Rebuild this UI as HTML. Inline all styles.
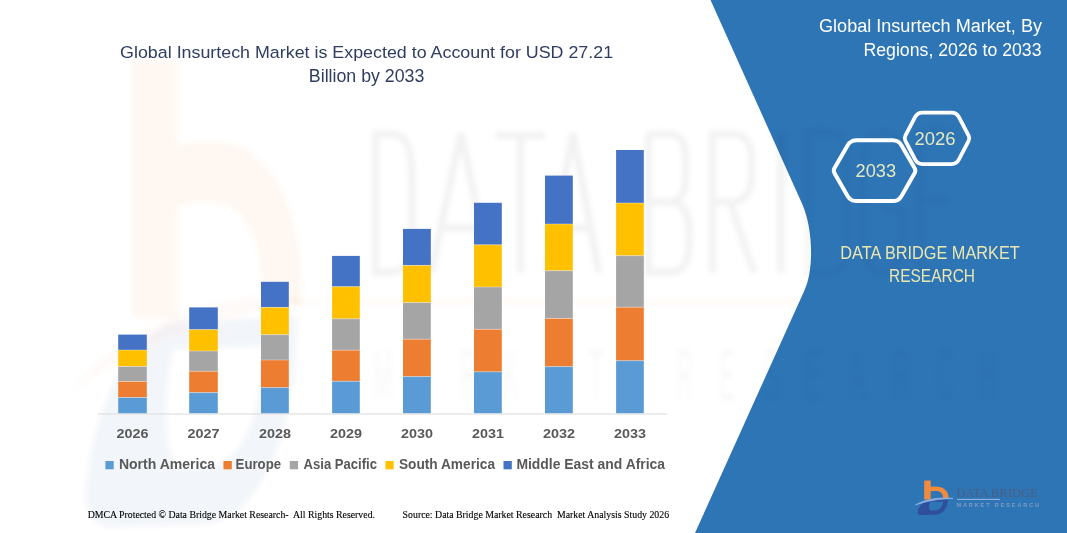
<!DOCTYPE html>
<html><head><meta charset="utf-8">
<style>
html,body{margin:0;padding:0;background:#fff;width:1067px;height:533px;overflow:hidden}
svg{display:block}
</style></head><body>
<svg width="1067" height="533" viewBox="0 0 1067 533">
<rect width="1067" height="533" fill="#fff"/>
<!-- blue panel -->
<path d="M710.5 0 L802.2 204 C812.3 226.5 814.7 267.5 804.6 290 L695 533 L1067 533 L1067 0 Z" fill="#2E75B6"/>
<!-- watermark -->
<defs><filter id="bl" x="-20%" y="-20%" width="140%" height="140%"><feGaussianBlur stdDeviation="2.5"/></filter></defs>
<g filter="url(#bl)">
<g transform="translate(-6291.19 -6425.75) scale(6.95 13.5)">
<path d="M924.2 480.5 H930.7 V486.8 C934 486.3 938 486.3 941 487.2 C946 489 948.8 493 948.6 498.6 L943.2 498.6 C943 494 941 491.2 936.5 491 C934 490.9 932 491 930.7 491.3 V499.5 H924.2 Z" fill="#F08A3C" fill-opacity="0.07"/>
<path d="M917.6 512.5 C918.5 506 924 500.8 930.5 499.8 L947.8 499.4 C948.2 507.5 943 514.2 935 514.8 L921 515 C918.8 515 917.4 514 917.6 512.5 Z M930.2 501.8 C928.6 505 928.8 509 930.6 510.6 L935.5 510.6 C940.5 510.2 943.2 506 943 501.6 Z" fill="#2F4E9C" fill-opacity="0.05" fill-rule="evenodd"/>
<path d="M915.5 505 C925 499 940 497 953 498.4 C940 498.6 926 501 915.5 505 Z" fill="#F0A070" fill-opacity="0.05"/>
</g>
<g fill="none" stroke="#000" stroke-opacity="0.05" stroke-width="7">
<path d="M375.5 134 V272 H390 C412 272 412 250 412 203 C412 155 412 134 390 134 Z"/>
<path d="M431 273 L461 133 L491 273 M440 228 H482"/>
<path d="M496 135.5 H545 M520.5 135.5 V273"/>
<path d="M547 273 L573 133 L599 273 M555 228 H591"/>
<path d="M648.5 134 V272 H670 C690 272 689 252 689 232 C689 212 684 202 668 202 H648.5 M668 202 C684 202 686 190 686 168 C686 144 684 134 668 134 H648.5"/>
<path d="M712.5 273 V134 H732 C750 134 752 148 752 168 C752 190 748 202 730 202 H712.5 M730 202 L754 273"/>
<path d="M781 133 V273"/>
</g>
<path d="M360 302 H795" stroke="#ED7D31" stroke-opacity="0.06" stroke-width="4"/>
</g>
<g fill="none" stroke="#000" stroke-opacity="0.035" stroke-width="6" filter="url(#bl)">
<path d="M808 132 V273 H825 C853 273 846 255 846 202 C846 150 853 132 825 132 Z"/>
<path d="M902 150 C898 136 890 132 882 132 C866 132 862 150 862 202 C862 255 866 273 882 273 C896 273 902 262 902 240 V210 H884"/>
<path d="M952 132 H920 V273 H952 M920 200 H948"/>
</g>
<g filter="url(#bl)"><text transform="translate(0 400) scale(0.75 2.25)" y="0" font-family="Liberation Sans" font-size="32" fill="#000" fill-opacity="0.026"><tspan x="497.3">M</tspan><tspan x="555.1">A</tspan><tspan x="612.8">R</tspan><tspan x="670.5">K</tspan><tspan x="728.3">E</tspan><tspan x="786.0">T</tspan><tspan x="901.5">R</tspan><tspan x="959.2">E</tspan><tspan x="1016.9">S</tspan><tspan x="1074.7">E</tspan><tspan x="1132.4">A</tspan><tspan x="1190.1">R</tspan><tspan x="1247.9">C</tspan><tspan x="1305.6">H</tspan></text></g>
<!-- title -->
<text x="366.6" y="57.6" text-anchor="middle" font-family="Liberation Sans" font-size="17.4" fill="#2F3D60" textLength="493" lengthAdjust="spacingAndGlyphs">Global Insurtech Market is Expected to Account for USD 27.21</text>
<text x="366.6" y="81.8" text-anchor="middle" font-family="Liberation Sans" font-size="18.3" fill="#2F3D60" textLength="115.5" lengthAdjust="spacingAndGlyphs">Billion by 2033</text>
<!-- axis -->
<line x1="97.5" x2="667" y1="414" y2="414" stroke="#D9D9D9" stroke-width="1"/>
<rect x="118.2" y="334.6" width="28.6" height="15.40" fill="#4472C4"/><rect x="118.2" y="350" width="28.6" height="16.50" fill="#FFC000"/><rect x="118.2" y="366.5" width="28.6" height="15.00" fill="#A5A5A5"/><rect x="118.2" y="381.5" width="28.6" height="16.00" fill="#ED7D31"/><rect x="118.2" y="397.5" width="28.6" height="15.70" fill="#5B9BD5"/><line x1="118.2" x2="146.8" y1="350" y2="350" stroke="#fff" stroke-opacity="0.45" stroke-width="0.8"/><line x1="118.2" x2="146.8" y1="366.5" y2="366.5" stroke="#fff" stroke-opacity="0.45" stroke-width="0.8"/><line x1="118.2" x2="146.8" y1="381.5" y2="381.5" stroke="#fff" stroke-opacity="0.45" stroke-width="0.8"/><line x1="118.2" x2="146.8" y1="397.5" y2="397.5" stroke="#fff" stroke-opacity="0.45" stroke-width="0.8"/><rect x="189.2" y="307.4" width="28.6" height="22.20" fill="#4472C4"/><rect x="189.2" y="329.6" width="28.6" height="21.40" fill="#FFC000"/><rect x="189.2" y="351" width="28.6" height="20.30" fill="#A5A5A5"/><rect x="189.2" y="371.3" width="28.6" height="21.30" fill="#ED7D31"/><rect x="189.2" y="392.6" width="28.6" height="20.60" fill="#5B9BD5"/><line x1="189.2" x2="217.79999999999998" y1="329.6" y2="329.6" stroke="#fff" stroke-opacity="0.45" stroke-width="0.8"/><line x1="189.2" x2="217.79999999999998" y1="351" y2="351" stroke="#fff" stroke-opacity="0.45" stroke-width="0.8"/><line x1="189.2" x2="217.79999999999998" y1="371.3" y2="371.3" stroke="#fff" stroke-opacity="0.45" stroke-width="0.8"/><line x1="189.2" x2="217.79999999999998" y1="392.6" y2="392.6" stroke="#fff" stroke-opacity="0.45" stroke-width="0.8"/><rect x="261.0" y="281.8" width="27.8" height="25.60" fill="#4472C4"/><rect x="261.0" y="307.4" width="27.8" height="27.30" fill="#FFC000"/><rect x="261.0" y="334.7" width="27.8" height="25.30" fill="#A5A5A5"/><rect x="261.0" y="360" width="27.8" height="27.60" fill="#ED7D31"/><rect x="261.0" y="387.6" width="27.8" height="25.60" fill="#5B9BD5"/><line x1="261.0" x2="288.8" y1="307.4" y2="307.4" stroke="#fff" stroke-opacity="0.45" stroke-width="0.8"/><line x1="261.0" x2="288.8" y1="334.7" y2="334.7" stroke="#fff" stroke-opacity="0.45" stroke-width="0.8"/><line x1="261.0" x2="288.8" y1="360" y2="360" stroke="#fff" stroke-opacity="0.45" stroke-width="0.8"/><line x1="261.0" x2="288.8" y1="387.6" y2="387.6" stroke="#fff" stroke-opacity="0.45" stroke-width="0.8"/><rect x="332.1" y="255.9" width="27.7" height="30.80" fill="#4472C4"/><rect x="332.1" y="286.7" width="27.7" height="32.10" fill="#FFC000"/><rect x="332.1" y="318.8" width="27.7" height="31.40" fill="#A5A5A5"/><rect x="332.1" y="350.2" width="27.7" height="31.10" fill="#ED7D31"/><rect x="332.1" y="381.3" width="27.7" height="31.90" fill="#5B9BD5"/><line x1="332.1" x2="359.8" y1="286.7" y2="286.7" stroke="#fff" stroke-opacity="0.45" stroke-width="0.8"/><line x1="332.1" x2="359.8" y1="318.8" y2="318.8" stroke="#fff" stroke-opacity="0.45" stroke-width="0.8"/><line x1="332.1" x2="359.8" y1="350.2" y2="350.2" stroke="#fff" stroke-opacity="0.45" stroke-width="0.8"/><line x1="332.1" x2="359.8" y1="381.3" y2="381.3" stroke="#fff" stroke-opacity="0.45" stroke-width="0.8"/><rect x="403.0" y="228.9" width="27.8" height="36.50" fill="#4472C4"/><rect x="403.0" y="265.4" width="27.8" height="37.20" fill="#FFC000"/><rect x="403.0" y="302.6" width="27.8" height="36.60" fill="#A5A5A5"/><rect x="403.0" y="339.2" width="27.8" height="37.40" fill="#ED7D31"/><rect x="403.0" y="376.6" width="27.8" height="36.60" fill="#5B9BD5"/><line x1="403.0" x2="430.8" y1="265.4" y2="265.4" stroke="#fff" stroke-opacity="0.45" stroke-width="0.8"/><line x1="403.0" x2="430.8" y1="302.6" y2="302.6" stroke="#fff" stroke-opacity="0.45" stroke-width="0.8"/><line x1="403.0" x2="430.8" y1="339.2" y2="339.2" stroke="#fff" stroke-opacity="0.45" stroke-width="0.8"/><line x1="403.0" x2="430.8" y1="376.6" y2="376.6" stroke="#fff" stroke-opacity="0.45" stroke-width="0.8"/><rect x="474.0" y="202.8" width="27.8" height="42.00" fill="#4472C4"/><rect x="474.0" y="244.8" width="27.8" height="42.20" fill="#FFC000"/><rect x="474.0" y="287" width="27.8" height="42.30" fill="#A5A5A5"/><rect x="474.0" y="329.3" width="27.8" height="42.50" fill="#ED7D31"/><rect x="474.0" y="371.8" width="27.8" height="41.40" fill="#5B9BD5"/><line x1="474.0" x2="501.8" y1="244.8" y2="244.8" stroke="#fff" stroke-opacity="0.45" stroke-width="0.8"/><line x1="474.0" x2="501.8" y1="287" y2="287" stroke="#fff" stroke-opacity="0.45" stroke-width="0.8"/><line x1="474.0" x2="501.8" y1="329.3" y2="329.3" stroke="#fff" stroke-opacity="0.45" stroke-width="0.8"/><line x1="474.0" x2="501.8" y1="371.8" y2="371.8" stroke="#fff" stroke-opacity="0.45" stroke-width="0.8"/><rect x="545.0" y="175.6" width="27.8" height="48.40" fill="#4472C4"/><rect x="545.0" y="224" width="27.8" height="46.70" fill="#FFC000"/><rect x="545.0" y="270.7" width="27.8" height="47.80" fill="#A5A5A5"/><rect x="545.0" y="318.5" width="27.8" height="48.10" fill="#ED7D31"/><rect x="545.0" y="366.6" width="27.8" height="46.60" fill="#5B9BD5"/><line x1="545.0" x2="572.8" y1="224" y2="224" stroke="#fff" stroke-opacity="0.45" stroke-width="0.8"/><line x1="545.0" x2="572.8" y1="270.7" y2="270.7" stroke="#fff" stroke-opacity="0.45" stroke-width="0.8"/><line x1="545.0" x2="572.8" y1="318.5" y2="318.5" stroke="#fff" stroke-opacity="0.45" stroke-width="0.8"/><line x1="545.0" x2="572.8" y1="366.6" y2="366.6" stroke="#fff" stroke-opacity="0.45" stroke-width="0.8"/><rect x="616.1" y="150" width="27.7" height="53.00" fill="#4472C4"/><rect x="616.1" y="203" width="27.7" height="52.70" fill="#FFC000"/><rect x="616.1" y="255.7" width="27.7" height="51.50" fill="#A5A5A5"/><rect x="616.1" y="307.2" width="27.7" height="53.50" fill="#ED7D31"/><rect x="616.1" y="360.7" width="27.7" height="52.50" fill="#5B9BD5"/><line x1="616.1" x2="643.8000000000001" y1="203" y2="203" stroke="#fff" stroke-opacity="0.45" stroke-width="0.8"/><line x1="616.1" x2="643.8000000000001" y1="255.7" y2="255.7" stroke="#fff" stroke-opacity="0.45" stroke-width="0.8"/><line x1="616.1" x2="643.8000000000001" y1="307.2" y2="307.2" stroke="#fff" stroke-opacity="0.45" stroke-width="0.8"/><line x1="616.1" x2="643.8000000000001" y1="360.7" y2="360.7" stroke="#fff" stroke-opacity="0.45" stroke-width="0.8"/>
<text x="132.5" y="438.4" text-anchor="middle" font-family="Liberation Sans" font-weight="700" font-size="13.5" fill="#595959" textLength="32" lengthAdjust="spacingAndGlyphs">2026</text><text x="203.5" y="438.4" text-anchor="middle" font-family="Liberation Sans" font-weight="700" font-size="13.5" fill="#595959" textLength="32" lengthAdjust="spacingAndGlyphs">2027</text><text x="274.9" y="438.4" text-anchor="middle" font-family="Liberation Sans" font-weight="700" font-size="13.5" fill="#595959" textLength="32" lengthAdjust="spacingAndGlyphs">2028</text><text x="345.95000000000005" y="438.4" text-anchor="middle" font-family="Liberation Sans" font-weight="700" font-size="13.5" fill="#595959" textLength="32" lengthAdjust="spacingAndGlyphs">2029</text><text x="416.9" y="438.4" text-anchor="middle" font-family="Liberation Sans" font-weight="700" font-size="13.5" fill="#595959" textLength="32" lengthAdjust="spacingAndGlyphs">2030</text><text x="487.9" y="438.4" text-anchor="middle" font-family="Liberation Sans" font-weight="700" font-size="13.5" fill="#595959" textLength="32" lengthAdjust="spacingAndGlyphs">2031</text><text x="558.9" y="438.4" text-anchor="middle" font-family="Liberation Sans" font-weight="700" font-size="13.5" fill="#595959" textLength="32" lengthAdjust="spacingAndGlyphs">2032</text><text x="629.95" y="438.4" text-anchor="middle" font-family="Liberation Sans" font-weight="700" font-size="13.5" fill="#595959" textLength="32" lengthAdjust="spacingAndGlyphs">2033</text>
<rect x="105.4" y="461" width="8.3" height="8.3" fill="#5B9BD5"/><text x="118.9" y="468.7" font-family="Liberation Sans" font-weight="700" font-size="14" fill="#595959" textLength="96.1" lengthAdjust="spacingAndGlyphs">North America</text><rect x="223.5" y="461" width="8.3" height="8.3" fill="#ED7D31"/><text x="235.6" y="468.7" font-family="Liberation Sans" font-weight="700" font-size="14" fill="#595959" textLength="45.5" lengthAdjust="spacingAndGlyphs">Europe</text><rect x="289.8" y="461" width="8.3" height="8.3" fill="#A5A5A5"/><text x="303.6" y="468.7" font-family="Liberation Sans" font-weight="700" font-size="14" fill="#595959" textLength="73.4" lengthAdjust="spacingAndGlyphs">Asia Pacific</text><rect x="385.4" y="461" width="8.3" height="8.3" fill="#FFC000"/><text x="398.9" y="468.7" font-family="Liberation Sans" font-weight="700" font-size="14" fill="#595959" textLength="96.1" lengthAdjust="spacingAndGlyphs">South America</text><rect x="503.5" y="461" width="8.3" height="8.3" fill="#4472C4"/><text x="516.4" y="468.7" font-family="Liberation Sans" font-weight="700" font-size="14" fill="#595959" textLength="148.7" lengthAdjust="spacingAndGlyphs">Middle East and Africa</text>
<text x="87.7" y="518" font-family="Liberation Serif" font-size="10" fill="#000" stroke="#000" stroke-width="0.12" style="white-space:pre" textLength="287.3" lengthAdjust="spacingAndGlyphs">DMCA Protected © Data Bridge Market Research-  All Rights Reserved.</text>
<text x="402.6" y="518" font-family="Liberation Serif" font-size="10" fill="#000" stroke="#000" stroke-width="0.12" style="white-space:pre" textLength="266.5" lengthAdjust="spacingAndGlyphs">Source: Data Bridge Market Research  Market Analysis Study 2026</text>
<!-- right panel -->
<text x="1042" y="32.3" text-anchor="end" font-family="Liberation Sans" font-size="18" fill="#fff" textLength="223" lengthAdjust="spacingAndGlyphs">Global Insurtech Market, By</text>
<text x="1041.5" y="55.7" text-anchor="end" font-family="Liberation Sans" font-size="18" fill="#fff" textLength="178" lengthAdjust="spacingAndGlyphs">Regions, 2026 to 2033</text>
<path d="M834.55 168.10 L847.56 145.50 Q850.55 140.30 856.55 140.30 L892.55 140.30 Q898.55 140.30 901.54 145.50 L914.55 168.10 Q916.05 170.70 914.55 173.30 L901.54 195.90 Q898.55 201.10 892.55 201.10 L856.55 201.10 Q850.55 201.10 847.56 195.90 L834.55 173.30 Q833.05 170.70 834.55 168.10 Z" fill="none" stroke="#fff" stroke-width="4"/>
<path d="M905.39 135.64 L915.18 116.98 Q917.50 112.55 922.50 112.55 L951.50 112.55 Q956.50 112.55 958.82 116.98 L968.61 135.64 Q970.00 138.30 968.61 140.96 L958.82 159.62 Q956.50 164.05 951.50 164.05 L922.50 164.05 Q917.50 164.05 915.18 159.62 L905.39 140.96 Q904.00 138.30 905.39 135.64 Z" fill="none" stroke="#fff" stroke-width="3.8"/>
<text x="875.8" y="176.5" text-anchor="middle" font-family="Liberation Sans" font-size="17.5" fill="#E4E9C0" textLength="40.5" lengthAdjust="spacingAndGlyphs">2033</text>
<text x="935" y="145" text-anchor="middle" font-family="Liberation Sans" font-size="18.4" fill="#E4E9C0" textLength="41" lengthAdjust="spacingAndGlyphs">2026</text>
<text x="930" y="258.8" text-anchor="middle" font-family="Liberation Sans" font-size="17.7" fill="#EAE6B0" textLength="179.5" lengthAdjust="spacingAndGlyphs">DATA BRIDGE MARKET</text>
<text x="932" y="282.4" text-anchor="middle" font-family="Liberation Sans" font-size="17.7" fill="#EAE6B0" textLength="86" lengthAdjust="spacingAndGlyphs">RESEARCH</text>
<!-- logo -->
<g>
<path d="M924.2 480.5 H930.7 V486.8 C934 486.3 938 486.3 941 487.2 C946 489 948.8 493 948.6 498.6 L943.2 498.6 C943 494 941 491.2 936.5 491 C934 490.9 932 491 930.7 491.3 V499.5 H924.2 Z" fill="#F08A3C"/>
<path d="M917.6 512.5 C918.5 506 924 500.8 930.5 499.8 L947.8 499.4 C948.2 507.5 943 514.2 935 514.8 L921 515 C918.8 515 917.4 514 917.6 512.5 Z M930.2 501.8 C928.6 505 928.8 509 930.6 510.6 L935.5 510.6 C940.5 510.2 943.2 506 943 501.6 Z" fill="#2F4E9C" fill-rule="evenodd"/>
<path d="M915.5 505 C925 499 940 497 953 498.4 C940 498.6 926 501 915.5 505 Z" fill="#8FB0E0" stroke="#8FB0E0" stroke-width="0.8"/>
<text x="956.2" y="496.7" font-family="Liberation Serif" font-size="13.5" fill="#4D5D80" textLength="81.5" lengthAdjust="spacingAndGlyphs">DATA BRIDGE</text>
<line x1="957" x2="1000" y1="499.4" y2="499.4" stroke="#9DB8E0" stroke-width="1"/>
<text x="956.5" y="507.4" font-family="Liberation Sans" font-size="5.5" font-weight="700" fill="#7F9CC8" textLength="82.5" lengthAdjust="spacing">MARKET  RESEARCH</text>
</g>
</svg>
</body></html>
